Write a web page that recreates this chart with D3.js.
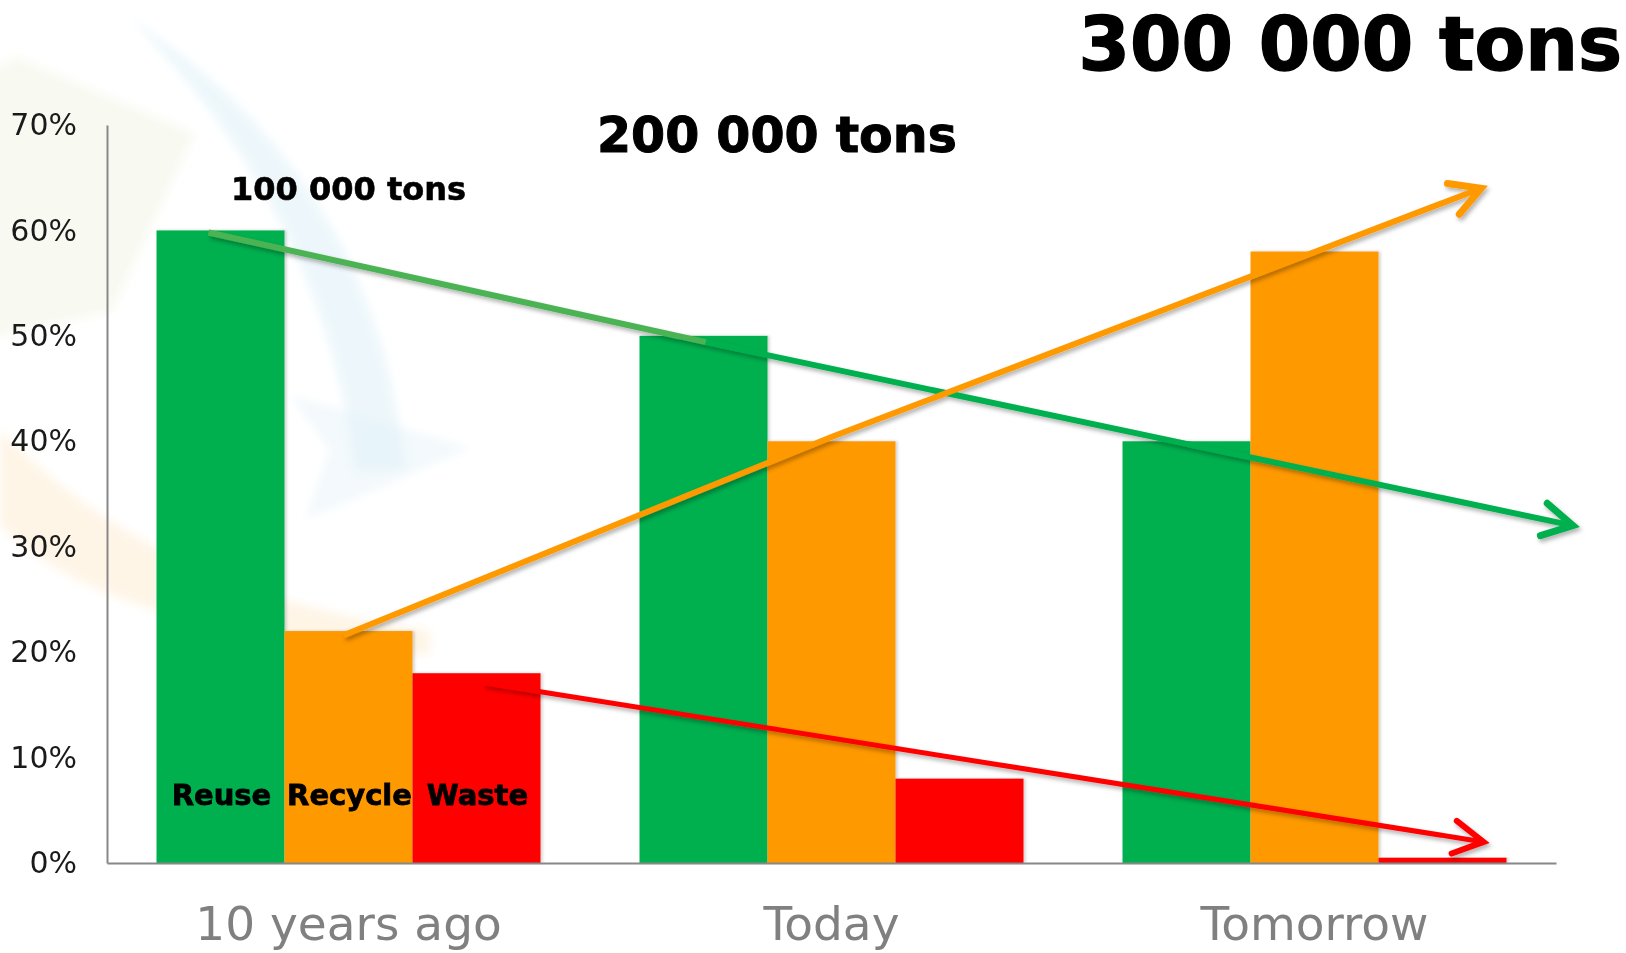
<!DOCTYPE html>
<html>
<head>
<meta charset="utf-8">
<script src="https://cdn.jsdelivr.net/npm/d3@7"></script>
<style>
  body { margin: 0; background: #fff; }
  svg { display: block; font-family: 'DejaVu Sans', Verdana, sans-serif; }
</style>
</head>
<body>
<svg id="chart" width="1626" height="953"></svg>
<script>
const periods = ['10 years ago', 'Today', 'Tomorrow'];
const streams = ['Reuse', 'Recycle', 'Waste'];
const reuse = [60, 50, 40];
const recycle = [22, 40, 58];
const waste = [18, 8, 0.5];
const yTicks = [0, 10, 20, 30, 40, 50, 60, 70];
const tonnage = ['100 000 tons', '200 000 tons', '300 000 tons'];

// hand drawn trend arrows, points as [period position, percent]
const reuseTrend = [[-0.29, 59.8], [0.74, 49.4], [2.535, 32.0]];
const recycleTrend = [[-0.01, 21.6], [1.0, 40.4], [2.345, 64.0]];
const wasteTrend = [[0.28, 17.1], [2.35, 2.0]];

const colors = { Reuse: '#00b050', Recycle: '#ff9900', Waste: '#ff0000' };
const values = { Reuse: reuse, Recycle: recycle, Waste: waste };

const svg = d3.select('#chart');
const defs = svg.append('defs');

const shadow = defs.append('filter').attr('id', 'shadow')
  .attr('x', '-10%').attr('y', '-10%').attr('width', '130%').attr('height', '140%');
shadow.append('feDropShadow').attr('dx', 2).attr('dy', 3)
  .attr('stdDeviation', 2).attr('flood-color', '#000').attr('flood-opacity', 0.3);

const barShadow = defs.append('filter').attr('id', 'barShadow')
  .attr('x', '-5%').attr('y', '-5%').attr('width', '115%').attr('height', '110%');
barShadow.append('feDropShadow').attr('dx', 2).attr('dy', 0)
  .attr('stdDeviation', 1.5).attr('flood-color', '#000').attr('flood-opacity', 0.18);

const blur = defs.append('filter').attr('id', 'blur');
blur.append('feGaussianBlur').attr('stdDeviation', 5);

// faint logo watermark in the background
const wm = svg.append('g').attr('filter', 'url(#blur)');
wm.append('path')
  .attr('d', 'M-20,75 L17,57 L195,133 L112,312 L-20,340 Z')
  .attr('fill', '#e9f0cf').attr('opacity', 0.3);
wm.append('path')
  .attr('d', 'M130,18 C270,110 385,250 405,470 L355,470 C335,290 250,140 130,18 Z')
  .attr('fill', '#d3eaf6').attr('opacity', 0.4);
wm.append('path')
  .attr('d', 'M290,395 L470,448 L305,520 L330,450 Z')
  .attr('fill', '#dcedf7').attr('opacity', 0.35);
wm.append('path')
  .attr('d', 'M0,430 C90,520 210,600 430,630 L430,655 C200,640 60,590 0,525 Z')
  .attr('fill', '#fbe1bb').attr('opacity', 0.35);

const x0 = d3.scaleBand().domain(periods).range([107, 1556])
  .paddingInner(0.205).paddingOuter(0.1025);
const x1 = d3.scaleBand().domain(streams).range([0, x0.bandwidth()]);
const y = d3.scaleLinear().domain([0, 70]).range([863, 125]);
const xPos = d3.scaleLinear().domain([0, 2])
  .range([x0(periods[0]) + x0.bandwidth() / 2, x0(periods[2]) + x0.bandwidth() / 2]);

// bars
const groups = svg.append('g').selectAll('g')
  .data(periods)
  .join('g')
  .attr('transform', d => `translate(${x0(d)},0)`);

groups.selectAll('rect')
  .data((p, i) => streams.map(s => ({ s, v: values[s][i] })))
  .join('rect')
  .attr('x', d => x1(d.s))
  .attr('y', d => y(d.v))
  .attr('width', x1.bandwidth())
  .attr('height', d => y(0) - y(d.v))
  .attr('fill', d => colors[d.s])
  .attr('filter', 'url(#barShadow)');

// axes
const yAxis = svg.append('g').attr('transform', 'translate(107,0)')
  .call(d3.axisLeft(y).tickValues(yTicks).tickSize(0).tickPadding(30).tickFormat(d => d + '%'));
yAxis.select('.domain').attr('stroke', '#888').attr('stroke-width', 2);
yAxis.selectAll('text').attr('font-size', 30).attr('fill', '#1a1a1a')
  .attr('font-family', "'DejaVu Sans', Verdana, sans-serif");

const xAxis = svg.append('g').attr('transform', 'translate(0,863)')
  .call(d3.axisBottom(x0).tickSize(0));
xAxis.select('.domain').attr('stroke', '#888').attr('stroke-width', 2);
xAxis.selectAll('text').attr('font-size', 47).attr('fill', '#808080')
  .attr('y', 77).attr('dy', 0)
  .attr('font-family', "'DejaVu Sans', Verdana, sans-serif");

// stream labels inside the first group
svg.append('g').selectAll('text')
  .data(streams)
  .join('text')
  .attr('x', d => x0(periods[0]) + x1(d) + x1.bandwidth() / 2 + 1)
  .attr('y', y(5.5))
  .attr('text-anchor', 'middle')
  .attr('font-size', 29)
  .attr('font-weight', 'bold')
  .attr('fill', '#000')
  .attr('stroke', '#000').attr('stroke-width', 0.8)
  .text(d => d);

// trend arrows
const line = d3.line().x(d => xPos(d[0])).y(d => y(d[1]));
const arrows = svg.append('g').attr('filter', 'url(#shadow)');

function arrow(points, color, width, firstColor) {
  if (firstColor) {
    arrows.append('path').attr('d', line(points.slice(0, 2)))
      .attr('fill', 'none').attr('stroke', firstColor).attr('stroke-width', width);
    points = points.slice(1);
  }
  arrows.append('path').attr('d', line(points))
    .attr('fill', 'none').attr('stroke', color).attr('stroke-width', width)
    .attr('stroke-linejoin', 'round');
  const a = points[points.length - 2], b = points[points.length - 1];
  const tx = xPos(b[0]), ty = y(b[1]);
  const ang = Math.atan2(ty - y(a[1]), tx - xPos(a[0]));
  const len = 34, spread = Math.PI / 6.2;
  const p1 = [tx - len * Math.cos(ang - spread), ty - len * Math.sin(ang - spread)];
  const p2 = [tx - len * Math.cos(ang + spread), ty - len * Math.sin(ang + spread)];
  arrows.append('path')
    .attr('d', `M${p1}L${tx},${ty}L${p2}`)
    .attr('fill', 'none').attr('stroke', color).attr('stroke-width', width + 1)
    .attr('stroke-linecap', 'round').attr('stroke-linejoin', 'miter');
}

arrow(reuseTrend, '#00b050', 6, '#4cb352');
arrow(recycleTrend, '#ff9900', 6);
arrow(wasteTrend, '#ff0000', 5);

// tonnage labels
const tonX = [xPos(0), xPos(0.887), 1622];
const tonY = [62.9, 67.4, 75.2];
const tonSize = [32, 49, 74];
const tonStroke = [0.6, 1, 1.4];
const tonAnchor = ['middle', 'middle', 'end'];
svg.append('g').selectAll('text')
  .data(tonnage)
  .join('text')
  .attr('x', (d, i) => tonX[i])
  .attr('y', (d, i) => y(tonY[i]))
  .attr('text-anchor', (d, i) => tonAnchor[i])
  .attr('font-size', (d, i) => tonSize[i])
  .attr('font-weight', 'bold')
  .attr('fill', '#000')
  .attr('stroke', '#000').attr('stroke-width', (d, i) => tonStroke[i])
  .text(d => d);
</script>
</body>
</html>
